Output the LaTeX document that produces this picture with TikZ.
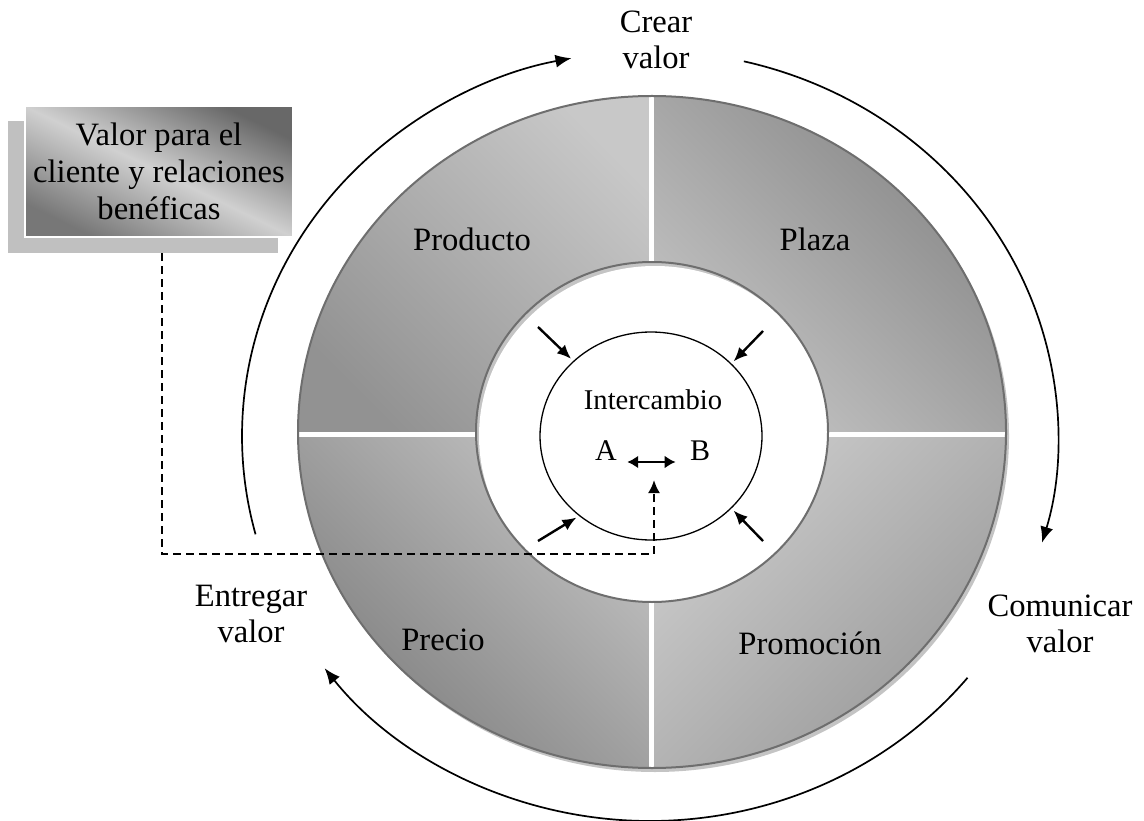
\documentclass[tikz,border=0pt]{standalone}
\usepackage{fontspec}
\setmainfont{Liberation Serif}
\usetikzlibrary{arrows.meta,shapes.geometric}

\definecolor{ringedge}{HTML}{6E6E6E}
\definecolor{ringshadow}{HTML}{C4C4C4}
\definecolor{prodlight}{HTML}{C8C8C8}
\definecolor{proddark}{HTML}{929292}
\definecolor{plazalight}{HTML}{C4C4C4}
\definecolor{plazadark}{HTML}{858585}
\definecolor{preclight}{HTML}{C2C2C2}
\definecolor{precdark}{HTML}{7C7C7C}
\definecolor{promlight}{HTML}{CCCCCC}
\definecolor{promdark}{HTML}{979797}
\definecolor{boxdark}{HTML}{686868}
\definecolor{boxlight}{HTML}{D0D0D0}
\definecolor{boxdarkb}{HTML}{777777}
\definecolor{boxback}{HTML}{C0C0C0}

\tikzset{
  lbl/.style={font=\fontsize{16.3}{18}\selectfont, align=center, inner sep=0pt},
  smalllbl/.style={font=\fontsize{14.3}{16}\selectfont, inner sep=0pt},
  ablbl/.style={font=\fontsize{15}{17}\selectfont, inner sep=0pt},
  sepline/.style={white, line width=2.5pt},
  ringline/.style={ringedge, line width=1pt},
  cyclearrow/.style={line width=0.85pt, -{Latex[length=8pt,width=6.5pt]}},
  innerarrow/.style={line width=1.2pt, -{Latex[length=7pt,width=6pt]}, shorten >=1.5pt},
  abarrow/.style={line width=1.3pt, {Latex[length=5.5pt,width=6.5pt]}-{Latex[length=5.5pt,width=6.5pt]}},
  dashconn/.style={line width=1.1pt, dash pattern=on 4pt off 2.5pt, -{Latex[length=6.5pt,width=6pt]}},
  backbox/.style={fill=boxback, minimum width=135pt, minimum height=66pt, inner sep=0pt},
  frontbox/.style={top color=boxdark, bottom color=boxdarkb, middle color=boxlight, shading angle=-26,
    draw=white, line width=0.8pt, minimum width=134pt, minimum height=65.5pt, inner sep=0pt,
    font=\fontsize{16.3}{18.5}\selectfont, align=center},
  circ/.style={ellipse, draw, line width=0.65pt, minimum width=111pt, minimum height=104pt, inner sep=0pt},
}

\begin{document}
\begin{tikzpicture}[x=0.5pt,y=0.5pt]
\useasboundingbox (0,0) rectangle (1144,820);

% ---- the ring of the four P's ----
\coordinate (C) at (652,388);
\fill[ringshadow] ([shift={(3,-4)}]C) ellipse [x radius=354, y radius=336];
\begin{scope}
  \clip (C) ellipse [x radius=354, y radius=336];
  \shade[top color=prodlight, bottom color=proddark, shading angle=-45] (C) rectangle ++(-360,345);
  \shade[top color=plazadark, bottom color=plazalight, shading angle=-45] (C) rectangle ++(360,345);
  \shade[top color=preclight, bottom color=precdark, shading angle=-45] (C) rectangle ++(-360,-345);
  \shade[top color=promlight, bottom color=promdark, shading angle=45] (C) rectangle ++(360,-345);
  \draw[sepline] (C) ++(-360,-2) -- ++(184,0);
  \draw[sepline] (C) ++(176,-2) -- ++(184,0);
  \draw[sepline] (C) ++(-1,170) -- ++(0,175);
  \draw[sepline] (C) ++(-1,-170) -- ++(0,-175);
\end{scope}
% white centre with its soft shadow
\begin{scope}
  \clip (C) ellipse [x radius=176, y radius=170];
  \fill[ringshadow] (C) ellipse [x radius=176, y radius=170];
  \fill[white] ([shift={(3,-4)}]C) ellipse [x radius=176, y radius=170];
\end{scope}
\draw[ringline] (C) ellipse [x radius=354, y radius=336];
\draw[ringline] (C) ellipse [x radius=176, y radius=170];

\node[lbl] (producto) at (472,581) {Producto};
\node[lbl] (plaza) at (815,581) {Plaza};
\node[lbl] (precio) at (443,180) {Precio};
\node[lbl] (promocion) at (810,177) {Promoción};

% ---- exchange in the middle ----
\node[circ] (I) at (651,384) {};
\node[smalllbl, anchor=base] (interc) at (653,410) {Intercambio};
\node[ablbl, anchor=base] (A) at (606,360) {A};
\node[ablbl, anchor=base] (B) at (700,360) {B};
\draw[abarrow, shorten <=5pt, shorten >=7pt] ([yshift=-1pt]A.base east) -- ([yshift=-1pt]B.base west);

\coordinate (tl) at (538,493);
\coordinate (tr) at (763,489);
\coordinate (bl) at (538,279);
\coordinate (br) at (763,279);
\draw[innerarrow] (tl) -- (I.136);
\draw[innerarrow] (tr) -- (I.42);
\draw[innerarrow] (bl) -- (I.228);
\draw[innerarrow] (br) -- (I.318);

% ---- cycle around the ring ----
\coordinate (O) at (650,384);
\draw[cyclearrow] ([shift={(O)}]194.8:408 and 385) arc[start angle=194.8, end angle=101.1, x radius=408, y radius=385];
\draw[cyclearrow] ([shift={(O)}]76.7:408 and 385) arc[start angle=76.7, end angle=-16.1, x radius=408, y radius=385];
\draw[cyclearrow] ([shift={(O)}]-38.9:408 and 385) arc[start angle=-38.9, end angle=-142.9, x radius=408, y radius=385];

\node[lbl] (crear) at (656,780) {Crear\\valor};
\node[lbl] (comunicar) at (1060,196) {Comunicar\\valor};
\node[lbl] (entregar) at (251,206) {Entregar\\valor};

% ---- value box and its link to the exchange ----
\node[backbox] (back) at (143,633) {};
\node[frontbox] (box) at (159,648.5) {Valor para el\\cliente y relaciones\\benéficas};

\coordinate (dturn) at (654,266);
\coordinate (dtip) at (654,340);
\draw[dashconn] ([xshift=1.5pt]box.south |- back.south) |- (dturn) -- (dtip);
\end{tikzpicture}
\end{document}
